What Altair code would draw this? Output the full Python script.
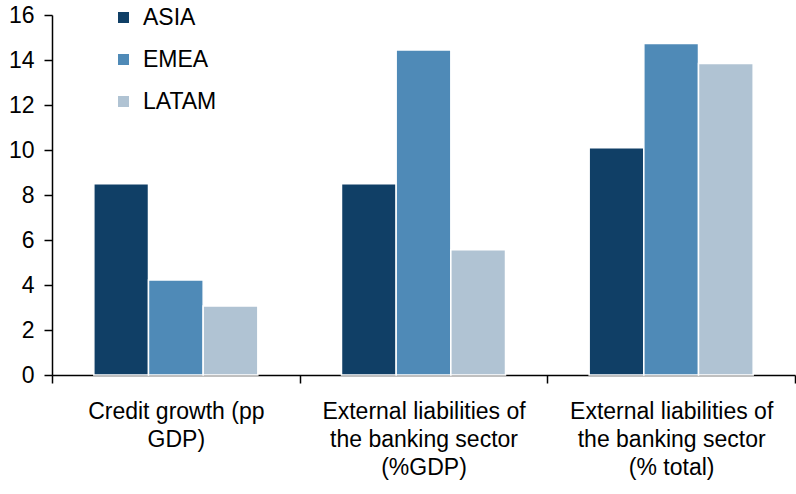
import altair as alt
import pandas as pd

categories = ["Credit growth (pp|GDP)",
              "External liabilities of|the banking sector|(%GDP)",
              "External liabilities of|the banking sector|(% total)"]
regions = ["ASIA", "EMEA", "LATAM"]
asia = [8.5, 8.5, 10.1]
emea = [4.22, 14.45, 14.73]
latam = [3.07, 5.57, 13.84]
colors = ["#103F66", "#4F8AB7", "#B0C3D3"]

rows = []
for i, c in enumerate(categories):
    for r, vals in zip(regions, [asia, emea, latam]):
        rows.append({"cat": c, "region": r, "value": vals[i]})
df = pd.DataFrame(rows)

FONT = "Liberation Sans"
FS = 23

chart = alt.Chart(df).mark_bar(stroke="white", strokeWidth=1.5).encode(
    x=alt.X("cat:N", sort=categories, title=None,
            scale=alt.Scale(paddingInner=0, paddingOuter=0),
            axis=alt.Axis(labelAngle=0, tickBand="extent", tickSize=8,
                          tickColor="black", domainColor="black",
                          labelExpr="split(datum.label, '|')",
                          labelLineHeight=28, labelFontSize=FS,
                          labelFont=FONT, labelColor="black",
                          labelPadding=17, labelBaseline="top",
                          labelLimit=300)),
    xOffset=alt.XOffset("region:N", sort=regions,
                        scale=alt.Scale(paddingInner=0, paddingOuter=0.765)),
    y=alt.Y("value:Q", title=None,
            scale=alt.Scale(domain=[0, 16], nice=False),
            axis=alt.Axis(values=list(range(0, 17, 2)), grid=False,
                          tickSize=8, tickColor="black", domainColor="black",
                          labelFontSize=FS, labelFont=FONT, labelColor="black",
                          labelPadding=10)),
    color=alt.Color("region:N", sort=regions,
                    scale=alt.Scale(domain=regions, range=colors),
                    legend=alt.Legend(title=None, orient="none",
                                      legendX=60, legendY=-9,
                                      symbolType="square", symbolSize=121,
                                      symbolStrokeWidth=0,
                                      labelFontSize=FS, labelFont=FONT,
                                      labelColor="black", labelOffset=8,
                                      rowPadding=18, padding=0)),
).properties(
    width=743, height=360,
    autosize=alt.AutoSizeParams(type="none"),
    padding={"left": 52, "top": 15, "right": 1, "bottom": 119},
).configure_view(stroke=None).configure_axis(domainWidth=1.5, tickWidth=1.5)

chart.save("out.html", embed_options={"renderer": "svg", "actions": False})
